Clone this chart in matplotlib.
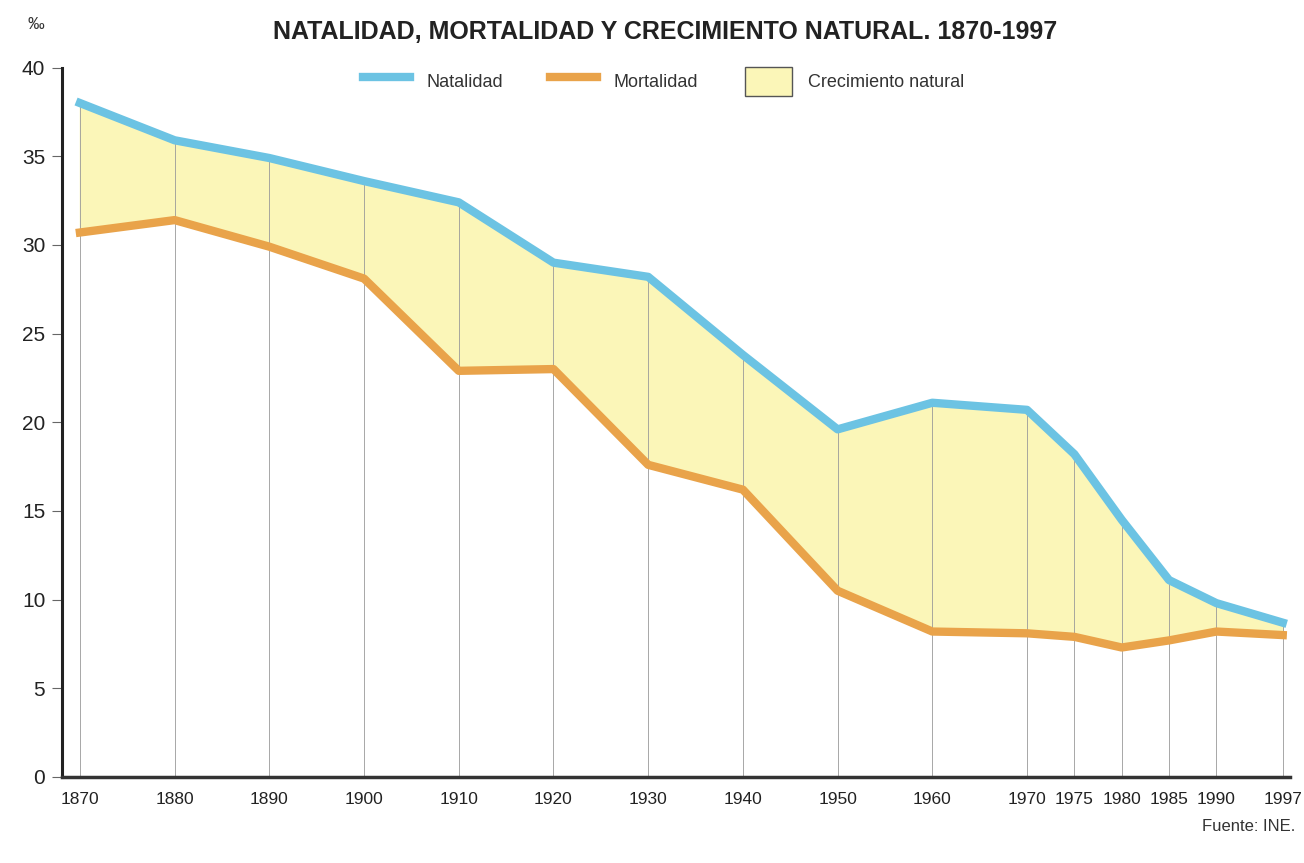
import numpy as np
import matplotlib.pyplot as plt
from matplotlib.lines import Line2D
from matplotlib.patches import Patch

plt.rcParams['font.family'] = ['Liberation Sans', 'DejaVu Sans']

years = [1870, 1880, 1890, 1900, 1910, 1920, 1930, 1940, 1950, 1960,
         1970, 1975, 1980, 1985, 1990, 1997]
natalidad = [38.0, 35.9, 34.9, 33.6, 32.4, 29.0, 28.2, 23.8, 19.6, 21.1,
             20.7, 18.2, 14.5, 11.1, 9.8, 8.7]
mortalidad = [30.7, 31.4, 29.9, 28.1, 22.9, 23.0, 17.6, 16.2, 10.5, 8.2,
              8.1, 7.9, 7.3, 7.7, 8.2, 8.0]

c_nat = '#6cc3e3'
c_mort = '#e9a34a'
c_fill = '#fbf6b8'

fig = plt.figure(figsize=(13.04, 8.63), dpi=100)
ax = fig.add_axes([0.0475, 0.0997, 0.942, 0.822])

ax.fill_between(years, mortalidad, natalidad, color=c_fill, zorder=1)
ax.vlines(years, 0, natalidad, color='#999999', lw=0.6, zorder=2)
ax.plot(years, mortalidad, color=c_mort, lw=6, solid_joinstyle='round', zorder=3)
ax.plot(years, natalidad, color=c_nat, lw=6, solid_joinstyle='round', zorder=4)

ax.set_xlim(1868.1, 1997.8)
ax.set_ylim(0, 40)
ax.set_yticks(range(0, 41, 5))
ax.set_xticks(years)
ax.set_xticklabels([str(y) for y in years])
ax.tick_params(axis='x', length=0, pad=11, labelsize=12.5, labelcolor='#222222')
ax.tick_params(axis='y', length=7, width=0.8, color='#666666', pad=5,
               labelsize=15, labelcolor='#222222')
for s in ['top', 'right']:
    ax.spines[s].set_visible(False)
ax.spines['left'].set_linewidth(2.2)
ax.spines['bottom'].set_linewidth(2.5)
ax.spines['bottom'].set_color('#333333')
ax.spines['left'].set_color('#222222')

fig.text(0.51, 0.963, 'NATALIDAD, MORTALIDAD Y CRECIMIENTO NATURAL. 1870-1997',
         ha='center', va='center', fontsize=18, fontweight='bold', color='#222222')
fig.text(0.021, 0.972, '‰', ha='left', va='center', fontsize=12, color='#333333')
fig.text(0.993, 0.042, 'Fuente: INE.', ha='right', va='center', fontsize=12,
         color='#333333')

handles = [Line2D([0], [0], color=c_nat, lw=6),
           Line2D([0], [0], color=c_mort, lw=6),
           Patch(facecolor=c_fill, edgecolor='#555555', lw=1)]
labels = ['Natalidad', 'Mortalidad', 'Crecimiento natural']
fig.legend(handles, labels, loc='center', bbox_to_anchor=(0.509, 0.906), ncol=3,
           frameon=False, fontsize=13, handlelength=2.6, handleheight=2.1,
           columnspacing=2.6, handletextpad=0.9, labelcolor='#333333')

fig.savefig('out.png', dpi=100)
